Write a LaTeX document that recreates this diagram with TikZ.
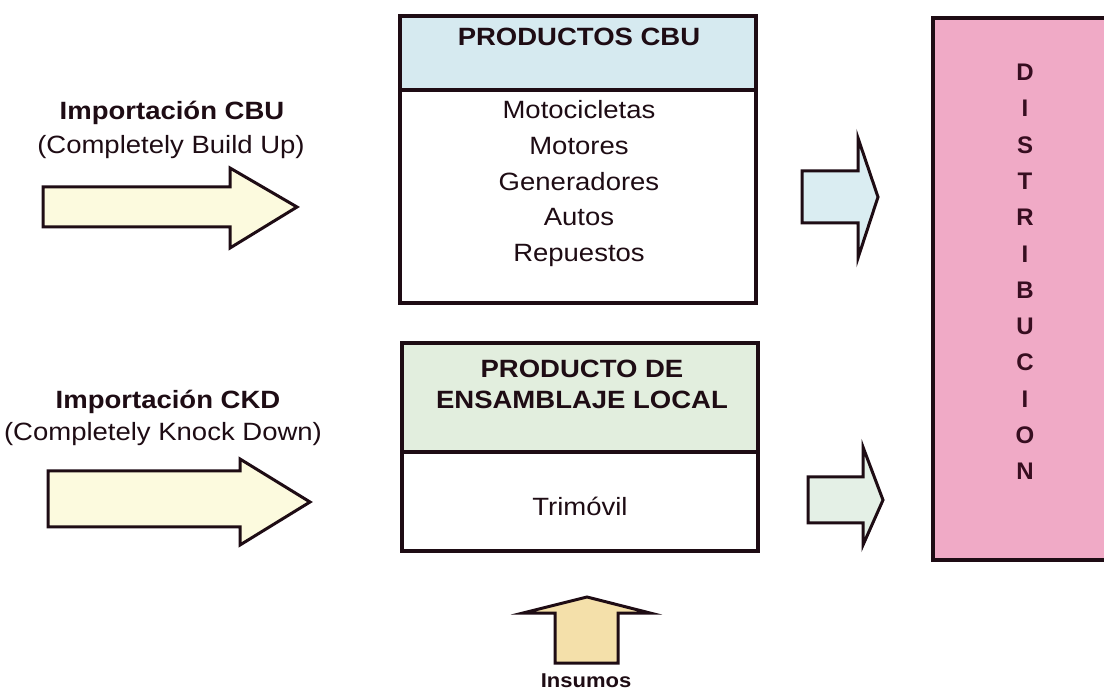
\documentclass[tikz,border=0pt]{standalone}
\usepackage{fontspec}
\setmainfont[FakeStretch=1.1]{Liberation Sans}
\newfontfamily\letterfont{Liberation Sans}

\definecolor{ink}{RGB}{30,12,20}
\definecolor{cbuhead}{RGB}{214,234,240}
\definecolor{ckdhead}{RGB}{226,238,222}
\definecolor{importfill}{RGB}{252,250,222}
\definecolor{cbusmall}{RGB}{218,237,242}
\definecolor{ckdsmall}{RGB}{228,240,230}
\definecolor{insumofill}{RGB}{244,224,170}
\definecolor{distfill}{RGB}{240,170,198}
\definecolor{distink}{RGB}{55,14,32}

\begin{document}
\begin{tikzpicture}[x=1pt,y=-1pt,
  outline/.style={draw=ink,line width=3.5pt},
  blockarrow/.style={draw=ink,line width=3pt,line join=miter},
  boxtext/.style={anchor=base,text=ink,inner sep=0pt,font=\fontsize{25}{29}\selectfont},
  boxtitle/.style={boxtext,font=\fontsize{25}{29}\selectfont\bfseries},
  label/.style={anchor=base,text=ink,inner sep=0pt,font=\fontsize{25}{30}\selectfont},
  letter/.style={anchor=base,text=distink,inner sep=0pt,font=\letterfont\fontsize{24}{28}\selectfont\bfseries}]

\useasboundingbox (0,0) rectangle (1104,692);
\fill[white] (0,0) rectangle (1104,692);

% imported finished products
\fill[cbuhead] (400,16) rectangle (756,90);
\draw[outline] (400,16) rectangle (756,303);
\draw[outline] (400,90) -- (756,90);
\node[boxtitle] (cbutitle) at (579,46) {PRODUCTOS CBU};
\node[boxtext] (moto) at (579,119) {Motocicletas};
\node[boxtext] (motor) at (579,155) {Motores};
\node[boxtext] (gen) at (579,191) {Generadores};
\node[boxtext] (autos) at (579,226) {Autos};
\node[boxtext] (rep) at (579,262) {Repuestos};

% locally assembled products
\fill[ckdhead] (402,343) rectangle (758,452);
\draw[outline] (402,343) rectangle (758,551);
\draw[outline] (402,452) -- (758,452);
\node[boxtitle] (ckdtitleA) at (582,378) {PRODUCTO DE};
\node[boxtitle] (ckdtitleB) at (582,409) {ENSAMBLAJE LOCAL};
\node[boxtext] (trimovil) at (580,516) {Trimóvil};

% import labels
\node[label,font=\fontsize{25}{30}\selectfont\bfseries] (cbuA) at (172,120) {Importación CBU};
\node[label] (cbuB) at (171,154) {(Completely Build Up)};
\node[label,font=\fontsize{25}{30}\selectfont\bfseries] (ckdA) at (168,409) {Importación CKD};
\node[label] (ckdB) at (163,441) {(Completely Knock Down)};

% block arrows
\draw[blockarrow,fill=importfill] (43,187) -- (230,187) -- (230,168) -- (297,207)
  -- (230,248) -- (230,227) -- (43,227) -- cycle;
\draw[blockarrow,fill=importfill] (48,471) -- (240,471) -- (240,459) -- (310,502)
  -- (240,545) -- (240,527) -- (48,527) -- cycle;
\draw[blockarrow,fill=cbusmall] (802,171) -- (858,171) -- (858,138) -- (878,197)
  -- (858,258) -- (858,223) -- (802,223) -- cycle;
\draw[blockarrow,fill=ckdsmall] (808,477) -- (863,477) -- (863,447) -- (883,500)
  -- (863,545) -- (863,523) -- (808,523) -- cycle;
\draw[blockarrow,fill=insumofill] (555,663) -- (555,613) -- (523,613) -- (587,597)
  -- (650,613) -- (618,613) -- (618,663) -- cycle;
\node[anchor=base,text=ink,inner sep=0pt,font=\fontsize{20}{24}\selectfont\bfseries] (insumos) at (586,687) {Insumos};

% distribution column
\fill[distfill] (933,18) rectangle (1110,560);
\draw[outline] (1110,18) -- (933,18) -- (933,560) -- (1110,560);
\foreach \l [count=\i from 0] in {D,I,S,T,R,I,B,U,C,I,O,N}
  \node[letter] (dist\i) at (1025,{72+36.3*\i+8.6}) {\l};

\end{tikzpicture}
\end{document}
